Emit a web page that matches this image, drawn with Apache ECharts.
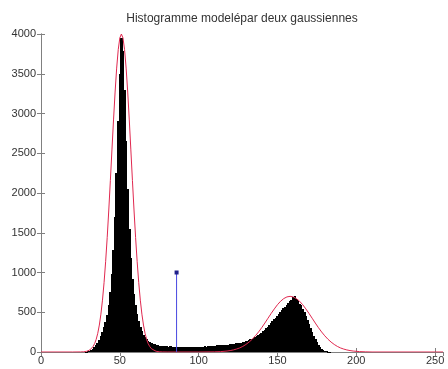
<!DOCTYPE html>
<html>
<head>
<meta charset="utf-8">
<script src="https://cdn.jsdelivr.net/npm/echarts@6/dist/echarts.min.js"></script>
<style>html,body{margin:0;padding:0;background:#fff;}#c{width:448px;height:369px;}</style>
</head>
<body>
<div id="c"></div>
<script>
const titleText = 'Histogramme modelépar deux gaussiennes';
const xTicks = [0, 50, 100, 150, 200, 250];
const yTicks = [0, 500, 1000, 1500, 2000, 2500, 3000, 3500, 4000];

// histogram counts for grey levels 0..255
const histCounts = [
  0,0,0,0,0,0,0,0,0,0,
  0,0,0,0,0,0,0,0,0,0,
  0,0,0,0,0,0,0,0,0,3,
  8,15,28,42,60,85,110,150,195,250,
  310,380,470,590,760,980,1280,1700,2250,2900,
  3500,3950,3780,3300,2650,2050,1550,1180,920,730,
  590,480,390,320,265,220,185,160,140,125,
  112,102,95,88,84,80,78,74,76,70,
  72,68,70,66,68,64,66,62,65,60,
  63,60,62,58,63,60,64,61,66,62,
  67,64,69,66,71,68,73,70,76,73,
  79,76,82,80,86,84,90,88,94,92,
  98,97,103,102,108,110,116,118,125,130,
  137,142,150,158,166,175,186,196,210,225,
  242,258,278,296,318,338,362,385,410,432,
  458,480,505,528,552,572,595,615,640,660,
  690,700,665,640,610,585,545,500,450,405,
  355,305,255,205,160,120,85,58,38,24,
  14,8,4,2,0,0,0,0,0,0,
  0,0,0,0,0,0,0,0,0,0,
  0,0,0,0,0,0,0,0,0,0,
  0,0,0,0,0,0,0,0,0,0,
  0,0,0,0,0,0,0,0,0,0,
  0,0,0,0,0,0,0,0,0,0,
  0,0,0,0,0,0,0,0,0,0,
  0,0,0,0,0,0
];

// fitted model (two gaussians)
const modelX = [0,20,25,27,29,31,32,33,34,35,36,37,38,39,40,41,42,43,44,45,46,47,48,49,50,51,52,53,54,55,56,57,58,59,60,61,62,63,64,65,66,67,68,69,70,71,73,75,77,80,100,110,114,118,120,122,124,126,128,130,132,134,136,138,140,142,144,146,148,150,152,154,156,158,160,162,164,166,168,170,172,174,176,178,180,182,184,186,188,190,192,194,196,198,202,206,210,255];
const modelY = [0,0,1,3,9,26,42,68,105,159,235,339,476,652,872,1136,1442,1786,2158,2542,2919,3270,3571,3804,3950,4000,3950,3804,3571,3270,2919,2542,2158,1786,1442,1136,872,652,476,339,235,159,105,68,42,26,9,3,1,0,0,2,5,12,18,26,37,51,70,95,125,161,204,252,306,364,425,485,542,595,639,672,693,700,693,672,639,595,542,485,425,364,306,252,204,161,125,95,70,51,37,26,18,12,5,2,0,0];

// threshold stem
const stemX = 86;
const stemY = 1000;

const histData = histCounts.map((v, i) => [i, v]);
const modelData = modelX.map((x, i) => [x, modelY[i]]);

const axisColor = '#808080';
const labelStyle = { color: '#333', fontSize: 11, fontFamily: 'Liberation Sans, Arial, sans-serif' };

const chart = echarts.init(document.getElementById('c'), null, { renderer: 'canvas' });
chart.setOption({
  animation: false,
  backgroundColor: '#fff',
  title: {
    text: titleText,
    left: 242, top: 13, textAlign: 'center', padding: 0,
    textStyle: { fontSize: 12, fontWeight: 'normal', color: '#333', fontFamily: 'Liberation Sans, Arial, sans-serif' }
  },
  grid: { left: 41, right: 5, top: 34, bottom: 17, containLabel: false },
  xAxis: [
    {
      type: 'value', min: 0, max: 255, interval: 50, position: 'bottom',
      axisLine: { show: true, lineStyle: { color: axisColor, width: 1 } },
      axisTick: { show: true, inside: true, length: 4, lineStyle: { color: axisColor } },
      axisLabel: Object.assign({ margin: 3, showMaxLabel: false,
        formatter: v => (xTicks.indexOf(v) >= 0 ? String(v) : '') }, labelStyle),
      splitLine: { show: false }
    },
    {
      type: 'value', min: 0, max: 255, interval: 50, position: 'top',
      axisLine: { show: true, lineStyle: { color: axisColor, width: 1 } },
      axisTick: { show: true, inside: true, length: 4, lineStyle: { color: axisColor } },
      axisLabel: { show: false },
      splitLine: { show: false }
    }
  ],
  yAxis: [
    {
      type: 'value', min: 0, max: 4000, interval: 500, position: 'left',
      axisLine: { show: true, lineStyle: { color: axisColor, width: 1 } },
      axisTick: { show: true, inside: true, length: 4, lineStyle: { color: axisColor } },
      axisLabel: Object.assign({ margin: 5,
        formatter: v => (yTicks.indexOf(v) >= 0 ? String(v) : '') }, labelStyle),
      splitLine: { show: false }
    },
    {
      type: 'value', min: 0, max: 4000, interval: 500, position: 'right',
      axisLine: { show: true, lineStyle: { color: axisColor, width: 1 } },
      axisTick: { show: true, inside: true, length: 4, lineStyle: { color: axisColor } },
      axisLabel: { show: false },
      splitLine: { show: false }
    }
  ],
  series: [
    {
      type: 'custom', xAxisIndex: 0, yAxisIndex: 0,
      data: histData,
      encode: { x: 0, y: 1 },
      renderItem: function (params, api) {
        const x = api.value(0), y = api.value(1);
        if (!y) return null;
        const p0 = api.coord([x - 0.5, y]);
        const p1 = api.coord([x + 0.5, 0]);
        const x0 = Math.floor(p0[0]), x1 = Math.ceil(p1[0]);
        const y0 = Math.round(p0[1]), y1 = Math.round(p1[1]);
        return {
          type: 'rect',
          shape: { x: x0, y: y0, width: x1 - x0, height: Math.max(1, y1 - y0) },
          style: { fill: '#000', stroke: null }
        };
      },
      silent: true, z: 2
    },
    {
      type: 'line', xAxisIndex: 0, yAxisIndex: 0,
      data: modelData, showSymbol: false, symbol: 'none',
      lineStyle: { color: '#e0284f', width: 1 },
      silent: true, z: 4
    },
    {
      type: 'line', xAxisIndex: 0, yAxisIndex: 0,
      data: [
        { value: [stemX, 0], symbol: 'none' },
        { value: [stemX, stemY], symbol: 'rect', symbolSize: 4 }
      ],
      showSymbol: true,
      lineStyle: { color: '#4848e0', width: 1 },
      itemStyle: { color: '#20208a' },
      silent: true, z: 5
    }
  ]
});
</script>
</body>
</html>
